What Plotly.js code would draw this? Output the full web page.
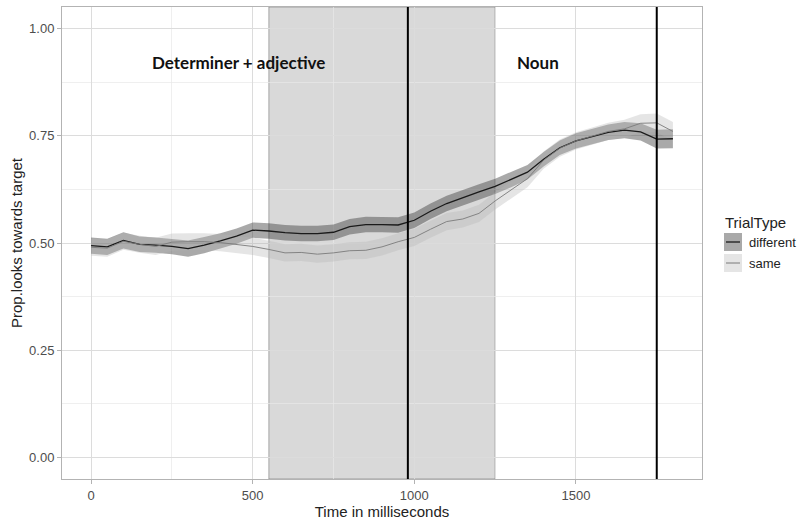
<!DOCTYPE html>
<html>
<head>
<meta charset="utf-8">
<script src="https://cdn.plot.ly/plotly-3.0.1.min.js"></script>
<style>html,body{margin:0;padding:0;background:#fff;}#chart{width:799px;height:524px;}</style>
</head>
<body>
<div id="chart"></div>
<script>
// ---- data ----
var timeMs = [0,50,100,150,200,250,300,350,400,450,500,550,600,650,700,750,800,850,900,950,1000,1050,1100,1150,1200,1250,1300,1350,1400,1450,1500,1550,1600,1650,1700,1750,1800];
var diffMean = [0.494,0.491,0.506,0.497,0.495,0.492,0.487,0.495,0.505,0.516,0.530,0.528,0.524,0.522,0.522,0.525,0.538,0.543,0.543,0.542,0.553,0.574,0.592,0.606,0.619,0.632,0.648,0.665,0.695,0.722,0.738,0.748,0.758,0.763,0.759,0.742,0.743];
var diffSE   = [0.019,0.019,0.019,0.018,0.018,0.018,0.019,0.019,0.018,0.018,0.018,0.018,0.018,0.018,0.018,0.018,0.018,0.018,0.018,0.018,0.018,0.018,0.018,0.018,0.018,0.018,0.018,0.017,0.017,0.017,0.018,0.018,0.018,0.019,0.020,0.022,0.022];
var sameMean = [0.490,0.488,0.504,0.497,0.492,0.502,0.503,0.503,0.501,0.497,0.492,0.485,0.477,0.478,0.474,0.477,0.482,0.483,0.491,0.503,0.513,0.532,0.550,0.556,0.569,0.598,0.624,0.650,0.693,0.721,0.738,0.749,0.760,0.766,0.779,0.780,0.760];
var sameSE   = [0.020,0.020,0.020,0.020,0.020,0.020,0.020,0.020,0.020,0.020,0.020,0.020,0.020,0.020,0.020,0.020,0.020,0.020,0.020,0.020,0.020,0.020,0.020,0.020,0.020,0.020,0.020,0.020,0.020,0.020,0.020,0.020,0.020,0.021,0.021,0.022,0.022];
var seriesNames = ["different", "same"];
var regionStart = [550];
var regionEnd = [1250];
var markerLines = [980, 1750];
var regionLabels = ["Determiner + adjective", "Noun"];
var regionLabelX = [457, 1384];
var regionLabelY = [0.92, 0.92];
var xTickVals = [0, 500, 1000, 1500];
var yTickVals = [0, 0.25, 0.5, 0.75, 1];

// ---- layout constants ----
var W = 799, H = 524, ML = 62, MR = 97, MT = 7, MB = 45;
var PW = W - ML - MR, PH = H - MT - MB;
function px(x) { return (x - ML) / PW; }
function py(y) { return (H - MB - y) / PH; }

function add(a, b, s) { return a.map(function (v, i) { return v + s * b[i]; }); }

var diffFill = 'rgba(51,51,51,0.42)';
var sameFill = 'rgba(180,180,180,0.35)';

var traces = [
  {x: timeMs, y: add(diffMean, diffSE, 1), mode: 'lines', line: {width: 0}, hoverinfo: 'skip', showlegend: false},
  {x: timeMs, y: add(diffMean, diffSE, -1), mode: 'lines', line: {width: 0}, fill: 'tonexty', fillcolor: diffFill, hoverinfo: 'skip', showlegend: false},
  {x: timeMs, y: add(sameMean, sameSE, 1), mode: 'lines', line: {width: 0}, hoverinfo: 'skip', showlegend: false},
  {x: timeMs, y: add(sameMean, sameSE, -1), mode: 'lines', line: {width: 0}, fill: 'tonexty', fillcolor: sameFill, hoverinfo: 'skip', showlegend: false},
  {x: timeMs, y: diffMean, mode: 'lines', name: seriesNames[0], line: {color: '#1a1a1a', width: 1.3}, showlegend: false},
  {x: timeMs, y: sameMean, mode: 'lines', name: seriesNames[1], line: {color: '#7a7a7a', width: 0.9}, showlegend: false}
];

var shapes = [];
regionStart.forEach(function (s, i) {
  shapes.push({type: 'rect', xref: 'x', yref: 'paper', x0: s, x1: regionEnd[i], y0: 0, y1: 1,
    fillcolor: 'rgba(128,128,128,0.3)', line: {color: 'rgba(110,110,110,0.55)', width: 1}, layer: 'between'});
});
markerLines.forEach(function (m) {
  shapes.push({type: 'line', xref: 'x', yref: 'paper', x0: m, x1: m, y0: 0, y1: 1,
    line: {color: '#000000', width: 2}, layer: 'above'});
});

// manual legend (ggplot style keys)
var keyX0 = 724, keyX1 = 742;
var keys = [{y0: 233, y1: 251, fill: '#a9a9a9', line: '#1a1a1a', lw: 1.3}, {y0: 254, y1: 272, fill: '#e5e5e5', line: '#7a7a7a', lw: 1}];
keys.forEach(function (k) {
  shapes.push({type: 'rect', xref: 'paper', yref: 'paper', x0: px(keyX0), x1: px(keyX1), y0: py(k.y1), y1: py(k.y0),
    fillcolor: k.fill, line: {width: 0}, layer: 'above'});
  var ym = py((k.y0 + k.y1) / 2);
  shapes.push({type: 'line', xref: 'paper', yref: 'paper', x0: px(keyX0 + 2), x1: px(keyX1 - 2), y0: ym, y1: ym,
    line: {color: k.line, width: k.lw}, layer: 'above'});
});

var annotations = [];
regionLabels.forEach(function (t, i) {
  annotations.push({x: regionLabelX[i], y: regionLabelY[i], xref: 'x', yref: 'y', text: '<b>' + t + '</b>', showarrow: false,
    font: {family: 'Lato, "Open Sans", sans-serif', size: 17, color: '#111111'}, xanchor: 'center', yanchor: 'middle'});
});
annotations.push({x: px(723), y: py(222), xref: 'paper', yref: 'paper', text: 'TrialType', showarrow: false,
  xanchor: 'left', yanchor: 'middle', font: {family: '"Liberation Sans", Arial, sans-serif', size: 15, color: '#222222'}});
seriesNames.forEach(function (n, i) {
  annotations.push({x: px(747), y: py((keys[i].y0 + keys[i].y1) / 2), xref: 'paper', yref: 'paper', text: n, showarrow: false,
    xanchor: 'left', yanchor: 'middle', font: {family: '"Liberation Sans", Arial, sans-serif', size: 13, color: '#222222'}});
});

var layout = {
  width: W, height: H,
  margin: {l: ML, r: MR, t: MT, b: MB, pad: 0},
  paper_bgcolor: '#ffffff', plot_bgcolor: '#ffffff',
  showlegend: false,
  font: {family: '"Liberation Sans", Arial, sans-serif', color: '#222222'},
  xaxis: {
    range: [-90, 1890], tickvals: xTickVals, ticktext: xTickVals.map(String),
    showgrid: true, gridcolor: '#dcdcdc', gridwidth: 1, zeroline: false,
    minor: {dtick: 250, tick0: 250, showgrid: true, gridcolor: '#e8e8e8', gridwidth: 0.7, ticks: ''},
    showline: true, mirror: true, linecolor: '#b3b3b3', linewidth: 1,
    ticks: 'outside', ticklen: 4, tickcolor: '#b3b3b3', tickwidth: 1,
    tickfont: {size: 13, color: '#4d4d4d'},
    title: {text: 'Time in milliseconds', font: {size: 15, color: '#222222'}, standoff: 4},
    automargin: false
  },
  yaxis: {
    range: [-0.05, 1.05], tickvals: yTickVals, tickformat: '.2f',
    showgrid: true, gridcolor: '#dcdcdc', gridwidth: 1, zeroline: false,
    minor: {dtick: 0.125, tick0: 0.125, showgrid: true, gridcolor: '#e8e8e8', gridwidth: 0.7, ticks: ''},
    showline: true, mirror: true, linecolor: '#b3b3b3', linewidth: 1,
    ticks: 'outside', ticklen: 4, tickcolor: '#b3b3b3', tickwidth: 1,
    tickfont: {size: 13, color: '#4d4d4d'},
    title: {text: 'Prop.looks towards target', font: {size: 15, color: '#222222'}, standoff: 2},
    automargin: false
  },
  shapes: shapes,
  annotations: annotations
};

Plotly.newPlot('chart', traces, layout, {staticPlot: true, displayModeBar: false});
</script>
</body>
</html>
